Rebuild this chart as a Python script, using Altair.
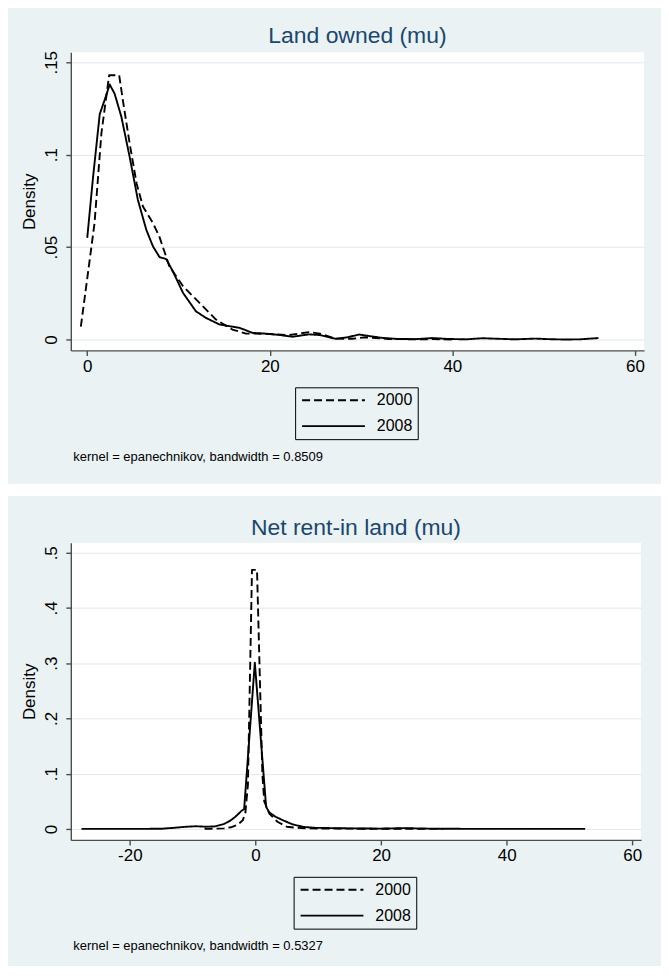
import altair as alt
import pandas as pd

# ---------------- data ----------------
years = ["2000", "2008"]

# Panel 1: Land owned (mu)
land_2000_x = [-0.7, 0.0, 0.8, 1.55, 2.4, 3.5, 3.9, 4.65, 5.4, 6.1, 7.2, 7.9, 9.0, 10.5, 12.3,
               14.1, 15.9, 17.4, 18.1, 20.0, 22.1, 24.3, 25.5, 27.2, 29.0, 30.5, 33.0, 36.0, 38.0, 40.0]
land_2000_y = [0.007, 0.033, 0.063, 0.1115, 0.143, 0.143, 0.1295, 0.106, 0.0846, 0.072, 0.063, 0.0557,
               0.0396, 0.0288, 0.0198, 0.0108, 0.0054, 0.0032, 0.0032, 0.003, 0.0024, 0.004, 0.0032,
               0.0005, 0.0004, 0.0012, 0.0003, 0.0001, 0.0002, 0.0]
land_2008_x = [0.0, 0.64, 1.37, 1.9, 2.46, 3.0, 3.74, 4.64, 5.55, 6.47, 7.2, 7.92, 8.66, 9.38, 10.5,
               11.9, 13.0, 14.5, 16.7, 18.1, 19.5, 21.0, 22.5, 24.3, 25.5, 27.2, 28.5, 29.8, 31.0,
               32.3, 34.0, 36.0, 37.8, 39.5, 41.5, 43.3, 45.0, 46.9, 49.1, 50.5, 52.3, 54.0, 56.0]
land_2008_y = [0.055, 0.088, 0.122, 0.1295, 0.138, 0.133, 0.1205, 0.099, 0.0755, 0.0594, 0.0504,
               0.0446, 0.0435, 0.0369, 0.0252, 0.0153, 0.0117, 0.0081, 0.0063, 0.0036, 0.0032,
               0.0025, 0.0015, 0.0028, 0.0024, 0.0004, 0.0012, 0.0027, 0.0018, 0.0009, 0.0003,
               0.0002, 0.0008, 0.0003, 0.0001, 0.0007, 0.0004, 0.0001, 0.0005, 0.0002, 0.0,
               0.0001, 0.0008]

# Panel 2: Net rent-in land (mu)
rent_2000_x = [-8.1, -6.5, -5.0, -3.9, -2.8, -2.0, -1.6, -1.2, -0.55, 0.25, 1.1, 1.4, 2.2, 3.5,
               5.0, 6.5, 8.5, 11.0, 15.0, 20.0, 25.0, 30.0]
rent_2000_y = [0.0, 0.0005, 0.001, 0.003, 0.008, 0.016, 0.03, 0.08, 0.469, 0.469, 0.10, 0.05,
               0.028, 0.013, 0.004, 0.002, 0.001, 0.0008, 0.0005, 0.0003, 0.0002, 0.0]
rent_2008_x = [-27.7, -20.0, -15.0, -13.0, -11.0, -9.5, -8.0, -6.5, -5.0, -4.0, -3.2, -2.2, -1.8,
               -0.1, 1.7, 2.2, 3.2, 4.5, 6.0, 7.7, 9.5, 12.0, 15.0, 20.0, 24.0, 26.0, 30.0, 35.0,
               40.0, 45.0, 52.5]
rent_2008_y = [0.0, 0.0, 0.0003, 0.002, 0.004, 0.0048, 0.004, 0.0045, 0.009, 0.015, 0.022, 0.033,
               0.036, 0.301, 0.04, 0.03, 0.022, 0.015, 0.008, 0.0036, 0.002, 0.0015, 0.001, 0.0005,
               0.0015, 0.0008, 0.0003, 0.0001, 0.0, 0.0, 0.0]

land_xticks = [0, 20, 40, 60]
land_yticks = [0, 0.05, 0.1, 0.15]
rent_xticks = [-20, 0, 20, 40, 60]
rent_yticks = [0, 0.1, 0.2, 0.3, 0.4, 0.5]

titles = ["Land owned (mu)", "Net rent-in land (mu)"]
notes = ["kernel = epanechnikov, bandwidth = 0.8509",
         "kernel = epanechnikov, bandwidth = 0.5327"]

BG = "#EAF2F3"
FONT = "Liberation Sans"


def make_df(x0, y0, x1, y1):
    a = pd.DataFrame({"x": x0, "y": y0, "year": years[0]})
    b = pd.DataFrame({"x": x1, "y": y1, "year": years[1]})
    return pd.concat([a, b], ignore_index=True)


def panel(df, title, note, xdom, ydom, xticks, yticks, W, H, gap=False):
    lines = alt.Chart(df).mark_line(
        color="black", strokeWidth=1.9, strokeJoin="round"
    ).encode(
        x=alt.X("x:Q",
                scale=alt.Scale(domain=xdom, nice=False, zero=False),
                axis=alt.Axis(values=xticks, grid=False, labelExpr="toString(datum.value)",
                              title=note, titleX=2, titleY=106, titleAlign="left",
                              titleAnchor="start", titleBaseline="middle", titleFontSize=13,
                              labelPadding=3)),
        y=alt.Y("y:Q",
                scale=alt.Scale(domain=ydom, nice=False, zero=False),
                axis=alt.Axis(values=yticks, grid=True, gridColor="#DFE8EB", gridWidth=1,
                              labelExpr="datum.value == 0 ? '0' : replace(toString(datum.value), '0.', '.')",
                              labelAngle=270, labelAlign="center", labelBaseline="bottom",
                              labelPadding=5, title="Density", titleFontSize=17,
                              titlePadding=4)),
        strokeDash=alt.StrokeDash(
            "year:N",
            scale=alt.Scale(domain=years, range=[[8, 4], [1, 0]]),
            legend=alt.Legend(title=None, orient="none", legendX=(W - 125) / 2, legendY=H + 37,
                              direction="vertical")),
    )
    layers = [lines]
    if gap:
        gap_rect = alt.Chart(pd.DataFrame({"g": [0]})).mark_rect(color="white").encode(
            x=alt.value(-63), x2=alt.value(W + 17), y=alt.value(H + 134), y2=alt.value(H + 146)
        )
        layers = [gap_rect, lines]
    return alt.layer(*layers).properties(
        width=W, height=H,
        title=alt.TitleParams(title, fontSize=23, color="#1A476F", font=FONT,
                              fontWeight="normal", anchor="middle", frame="group", offset=3),
    )


top = panel(make_df(land_2000_x, land_2000_y, land_2008_x, land_2008_y), titles[0], notes[0],
            [-1.8, 61.0], [-0.0059, 0.1554], land_xticks, land_yticks, 575, 299, gap=True)
bottom = panel(make_df(rent_2000_x, rent_2000_y, rent_2008_x, rent_2008_y), titles[1], notes[1],
               [-29.4, 61.4], [-0.0199, 0.518], rent_xticks, rent_yticks, 572, 298)

chart = alt.vconcat(top, bottom, spacing=21).resolve_scale(
    strokeDash="independent"
).resolve_legend(
    strokeDash="independent"
).properties(
    background=BG,
    padding={"left": 0, "top": 15, "right": 0, "bottom": 12},
).configure_view(
    fill="white", strokeWidth=0
).configure_axis(
    domainColor="#4D4D4D", domainWidth=1.4, tickColor="#4D4D4D", tickWidth=1.4, tickSize=5,
    labelFont=FONT, labelFontSize=17, labelColor="black",
    titleFont=FONT, titleFontWeight="normal", titleColor="black",
).configure_legend(
    strokeColor="black", padding=5, labelFont=FONT, labelFontSize=16, labelColor="black",
    symbolType="M-1,0H9.5", symbolSize=144, symbolStrokeWidth=1.8, symbolStrokeColor="black",
    rowPadding=10, labelOffset=61,
)

chart.save("out.html", embed_options={"renderer": "svg", "actions": False})
